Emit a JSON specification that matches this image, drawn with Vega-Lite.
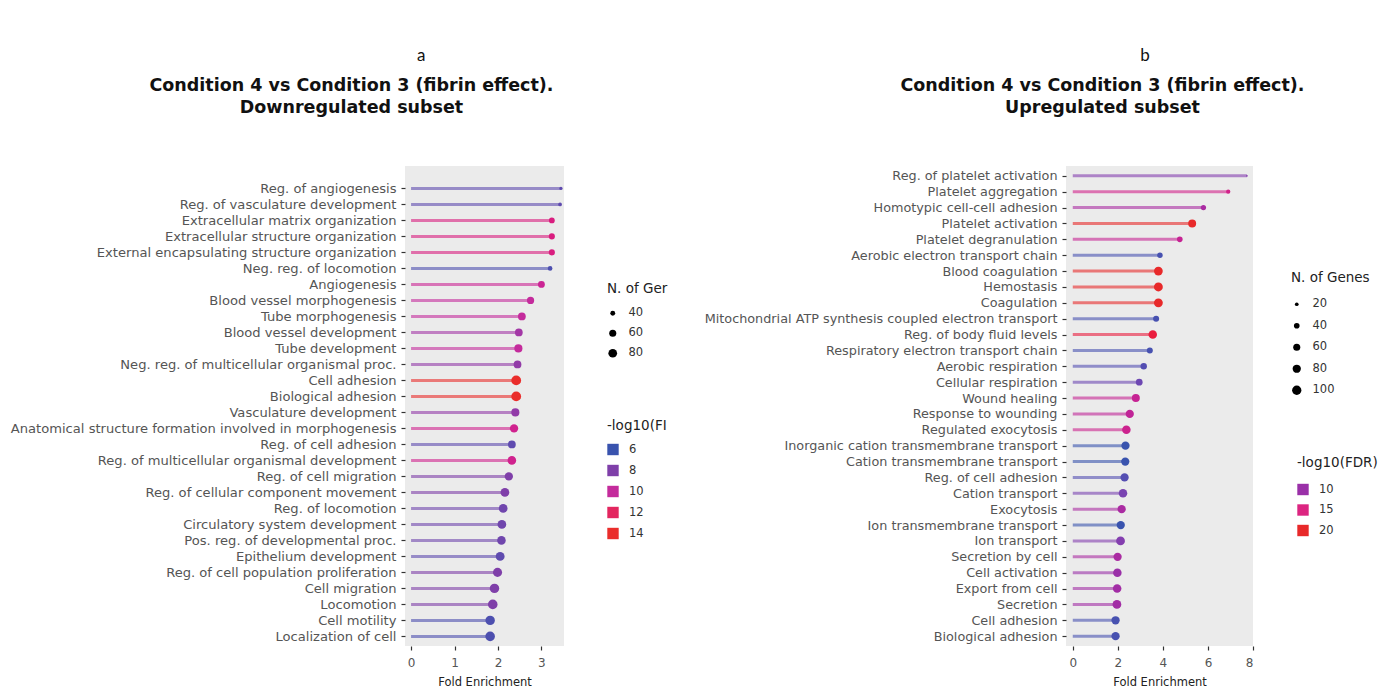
{
  "$schema": "https://vega.github.io/schema/vega-lite/v6.json",
  "background": "white",
  "padding": {"top": 46, "left": 10, "right": 5, "bottom": 0},
  "spacing": 36,
  "datasets": {
    "down": [
      {"term": "Reg. of angiogenesis", "fe": 3.45, "n": 30, "fdr": 7.0},
      {"term": "Reg. of vasculature development", "fe": 3.43, "n": 32, "fdr": 7.0},
      {"term": "Extracellular matrix organization", "fe": 3.24, "n": 48, "fdr": 11.0},
      {"term": "Extracellular structure organization", "fe": 3.24, "n": 50, "fdr": 11.0},
      {"term": "External encapsulating structure organization", "fe": 3.24, "n": 50, "fdr": 11.0},
      {"term": "Neg. reg. of locomotion", "fe": 3.2, "n": 38, "fdr": 6.5},
      {"term": "Angiogenesis", "fe": 3.0, "n": 58, "fdr": 10.3},
      {"term": "Blood vessel morphogenesis", "fe": 2.75, "n": 62, "fdr": 10.0},
      {"term": "Tube morphogenesis", "fe": 2.55, "n": 68, "fdr": 10.0},
      {"term": "Blood vessel development", "fe": 2.48, "n": 68, "fdr": 9.0},
      {"term": "Tube development", "fe": 2.47, "n": 72, "fdr": 10.0},
      {"term": "Neg. reg. of multicellular organismal proc.", "fe": 2.45, "n": 68, "fdr": 8.5},
      {"term": "Cell adhesion", "fe": 2.42, "n": 95, "fdr": 14.0},
      {"term": "Biological adhesion", "fe": 2.42, "n": 95, "fdr": 14.0},
      {"term": "Vasculature development", "fe": 2.4, "n": 72, "fdr": 8.5},
      {"term": "Anatomical structure formation involved in morphogenesis", "fe": 2.37, "n": 75, "fdr": 10.5},
      {"term": "Reg. of cell adhesion", "fe": 2.32, "n": 68, "fdr": 7.0},
      {"term": "Reg. of multicellular organismal development", "fe": 2.32, "n": 78, "fdr": 10.5},
      {"term": "Reg. of cell migration", "fe": 2.25, "n": 75, "fdr": 8.0},
      {"term": "Reg. of cellular component movement", "fe": 2.16, "n": 80, "fdr": 8.0},
      {"term": "Reg. of locomotion", "fe": 2.12, "n": 80, "fdr": 7.5},
      {"term": "Circulatory system development", "fe": 2.09, "n": 80, "fdr": 7.5},
      {"term": "Pos. reg. of developmental proc.", "fe": 2.08, "n": 78, "fdr": 7.5},
      {"term": "Epithelium development", "fe": 2.05, "n": 82, "fdr": 7.0},
      {"term": "Reg. of cell population proliferation", "fe": 1.99, "n": 85, "fdr": 8.0},
      {"term": "Cell migration", "fe": 1.92, "n": 90, "fdr": 8.0},
      {"term": "Locomotion", "fe": 1.88, "n": 92, "fdr": 8.0},
      {"term": "Cell motility", "fe": 1.82, "n": 90, "fdr": 6.5},
      {"term": "Localization of cell", "fe": 1.82, "n": 92, "fdr": 6.5}
    ],
    "up": [
      {"term": "Reg. of platelet activation", "fe": 7.73, "n": 8, "fdr": 9.0},
      {"term": "Platelet aggregation", "fe": 6.9, "n": 25, "fdr": 14.0},
      {"term": "Homotypic cell-cell adhesion", "fe": 5.8, "n": 35, "fdr": 11.0},
      {"term": "Platelet activation", "fe": 5.3, "n": 75, "fdr": 21.0},
      {"term": "Platelet degranulation", "fe": 4.75, "n": 40, "fdr": 13.0},
      {"term": "Aerobic electron transport chain", "fe": 3.87, "n": 38, "fdr": 6.5},
      {"term": "Blood coagulation", "fe": 3.8, "n": 90, "fdr": 20.0},
      {"term": "Hemostasis", "fe": 3.8, "n": 92, "fdr": 20.0},
      {"term": "Coagulation", "fe": 3.8, "n": 92, "fdr": 20.0},
      {"term": "Mitochondrial ATP synthesis coupled electron transport", "fe": 3.7, "n": 45, "fdr": 6.5},
      {"term": "Reg. of body fluid levels", "fe": 3.55, "n": 85, "fdr": 19.0},
      {"term": "Respiratory electron transport chain", "fe": 3.42, "n": 45, "fdr": 6.5},
      {"term": "Aerobic respiration", "fe": 3.15, "n": 50, "fdr": 7.0},
      {"term": "Cellular respiration", "fe": 2.95, "n": 55, "fdr": 8.0},
      {"term": "Wound healing", "fe": 2.8, "n": 75, "fdr": 13.0},
      {"term": "Response to wounding", "fe": 2.53, "n": 80, "fdr": 12.5},
      {"term": "Regulated exocytosis", "fe": 2.38, "n": 85, "fdr": 13.5},
      {"term": "Inorganic cation transmembrane transport", "fe": 2.34, "n": 80, "fdr": 6.0},
      {"term": "Cation transmembrane transport", "fe": 2.33, "n": 80, "fdr": 6.0},
      {"term": "Reg. of cell adhesion", "fe": 2.3, "n": 80, "fdr": 7.0},
      {"term": "Cation transport", "fe": 2.23, "n": 85, "fdr": 8.5},
      {"term": "Exocytosis", "fe": 2.17, "n": 80, "fdr": 11.0},
      {"term": "Ion transmembrane transport", "fe": 2.13, "n": 80, "fdr": 6.0},
      {"term": "Ion transport", "fe": 2.12, "n": 90, "fdr": 9.0},
      {"term": "Secretion by cell", "fe": 1.99, "n": 80, "fdr": 11.0},
      {"term": "Cell activation", "fe": 1.98, "n": 85, "fdr": 10.0},
      {"term": "Export from cell", "fe": 1.97, "n": 85, "fdr": 10.5},
      {"term": "Secretion", "fe": 1.96, "n": 90, "fdr": 10.5},
      {"term": "Cell adhesion", "fe": 1.9, "n": 80, "fdr": 6.5},
      {"term": "Biological adhesion", "fe": 1.9, "n": 80, "fdr": 6.5}
    ]
  },
  "hconcat": [
    {
      "title": {"text": "a", "font": "Lato", "fontSize": 17, "fontWeight": "normal", "color": "#111", "anchor": "middle", "dx": 82, "offset": 12},
      "resolve": {"scale": {"color": "independent", "size": "independent"}, "legend": {"color": "independent", "size": "independent"}},
      "hconcat": [
        {
          "width": 159,
          "height": 480,
          "title": {"text": ["Condition 4 vs Condition 3 (fibrin effect).", "Downregulated subset"], "font": "DejaVu Sans", "fontSize": 17.5, "fontWeight": "bold", "lineHeight": 22, "color": "#111", "anchor": "middle", "offset": 50, "dx": -133},
          "data": {"name": "down"},
          "encoding": {
            "y": {"field": "term", "type": "nominal", "sort": null, "scale": {"type": "point", "padding": 1.035, "align": 0.7}, "axis": {"title": null, "labelFontSize": 13.1, "labelPadding": 5}},
            "x": {"field": "fe", "type": "quantitative", "scale": {"domain": [-0.14, 3.52], "nice": false, "zero": false}, "axis": {"title": "Fold Enrichment", "values": [0, 1, 2, 3]}},
            "color": {"field": "fdr", "type": "quantitative", "scale": {"domain": [6, 8, 10, 12, 14], "range": ["#3953ae", "#7f3fa9", "#c42b9c", "#e3265f", "#ea2d2b"], "clamp": true}, "legend": {"type": "symbol", "title": "-log10(FI", "values": [6, 8, 10, 12, 14], "symbolType": "square", "symbolSize": 130, "symbolStrokeWidth": 0, "symbolOpacity": 1, "orient": "none", "legendX": 202, "legendY": 253, "titlePadding": 11, "rowPadding": 9}}
          },
          "layer": [
            {
              "mark": {"type": "rule", "strokeWidth": 3, "opacity": 0.6},
              "encoding": {
                "x2": {"datum": 0}
              }
            },
            {
              "mark": {"type": "circle", "opacity": 1},
              "encoding": {
                "size": {"field": "n", "type": "quantitative", "scale": {"domain": [40, 80], "range": [24, 76], "zero": false}, "legend": {"title": "N. of Ger", "values": [40, 60, 80], "orient": "none", "legendX": 202, "legendY": 116, "symbolFillColor": "#000", "symbolStrokeWidth": 0, "symbolType": "circle", "titlePadding": 12, "rowPadding": 7}}
              }
            }
          ]
        }
      ]
    },
    {
      "title": {"text": "b", "font": "Lato", "fontSize": 17, "fontWeight": "normal", "color": "#111", "anchor": "middle", "dx": 104, "offset": 12},
      "resolve": {"scale": {"color": "independent", "size": "independent"}, "legend": {"color": "independent", "size": "independent"}},
      "hconcat": [
        {
          "width": 187,
          "height": 480,
          "title": {"text": ["Condition 4 vs Condition 3 (fibrin effect).", "Upregulated subset"], "font": "DejaVu Sans", "fontSize": 17.5, "fontWeight": "bold", "lineHeight": 22, "color": "#111", "anchor": "middle", "offset": 50, "dx": -57},
          "data": {"name": "up"},
          "encoding": {
            "y": {"field": "term", "type": "nominal", "sort": null, "scale": {"type": "point", "padding": 0.62}, "axis": {"title": null, "labelFontSize": 12.8, "labelPadding": 5}},
            "x": {"field": "fe", "type": "quantitative", "scale": {"domain": [-0.3, 8.0], "nice": false, "zero": false}, "axis": {"title": "Fold Enrichment", "values": [0, 2, 4, 6, 8]}},
            "color": {"field": "fdr", "type": "quantitative", "scale": {"domain": [6, 10, 15, 20], "range": ["#3953ae", "#9a30a8", "#dc2581", "#e8292a"], "clamp": true}, "legend": {"type": "symbol", "title": "-log10(FDR)", "values": [10, 15, 20], "symbolType": "square", "symbolSize": 130, "symbolStrokeWidth": 0, "symbolOpacity": 1, "orient": "none", "legendX": 231, "legendY": 290, "titlePadding": 14, "rowPadding": 8.5}}
          },
          "layer": [
            {
              "mark": {"type": "rule", "strokeWidth": 3, "opacity": 0.6},
              "encoding": {
                "x2": {"datum": 0}
              }
            },
            {
              "mark": {"type": "circle", "opacity": 1},
              "encoding": {
                "size": {"field": "n", "type": "quantitative", "scale": {"domain": [20, 100], "range": [14, 86], "zero": false}, "legend": {"title": "N. of Genes", "values": [20, 40, 60, 80, 100], "orient": "none", "legendX": 225, "legendY": 105, "symbolFillColor": "#000", "symbolStrokeWidth": 0, "symbolType": "circle", "titlePadding": 14, "rowPadding": 8.5}}
              }
            }
          ]
        }
      ]
    }
  ],
  "resolve": {"scale": {"color": "independent", "size": "independent", "x": "independent", "y": "independent"}, "legend": {"color": "independent", "size": "independent"}},
  "config": {
    "view": {"fill": "#ebebeb", "stroke": null},
    "axis": {
      "grid": false,
      "domain": false,
      "labelFont": "DejaVu Sans",
      "labelColor": "#555",
      "tickColor": "#333",
      "tickSize": 4,
      "tickWidth": 1.2,
      "titleFont": "DejaVu Sans",
      "titleFontWeight": "normal",
      "titleColor": "#222"
    },
    "axisY": {"labelLimit": 600},
    "axisX": {"labelFontSize": 12, "labelPadding": 7, "titleFontSize": 11.5, "titlePadding": 8},
    "legend": {
      "titleFont": "DejaVu Sans",
      "titleFontSize": 13.5,
      "titleFontWeight": "normal",
      "titleColor": "#222",
      "labelFont": "DejaVu Sans",
      "labelFontSize": 11.5,
      "labelColor": "#333",
      "rowPadding": 8,
      "titlePadding": 8,
      "labelOffset": 10
    }
  }
}
